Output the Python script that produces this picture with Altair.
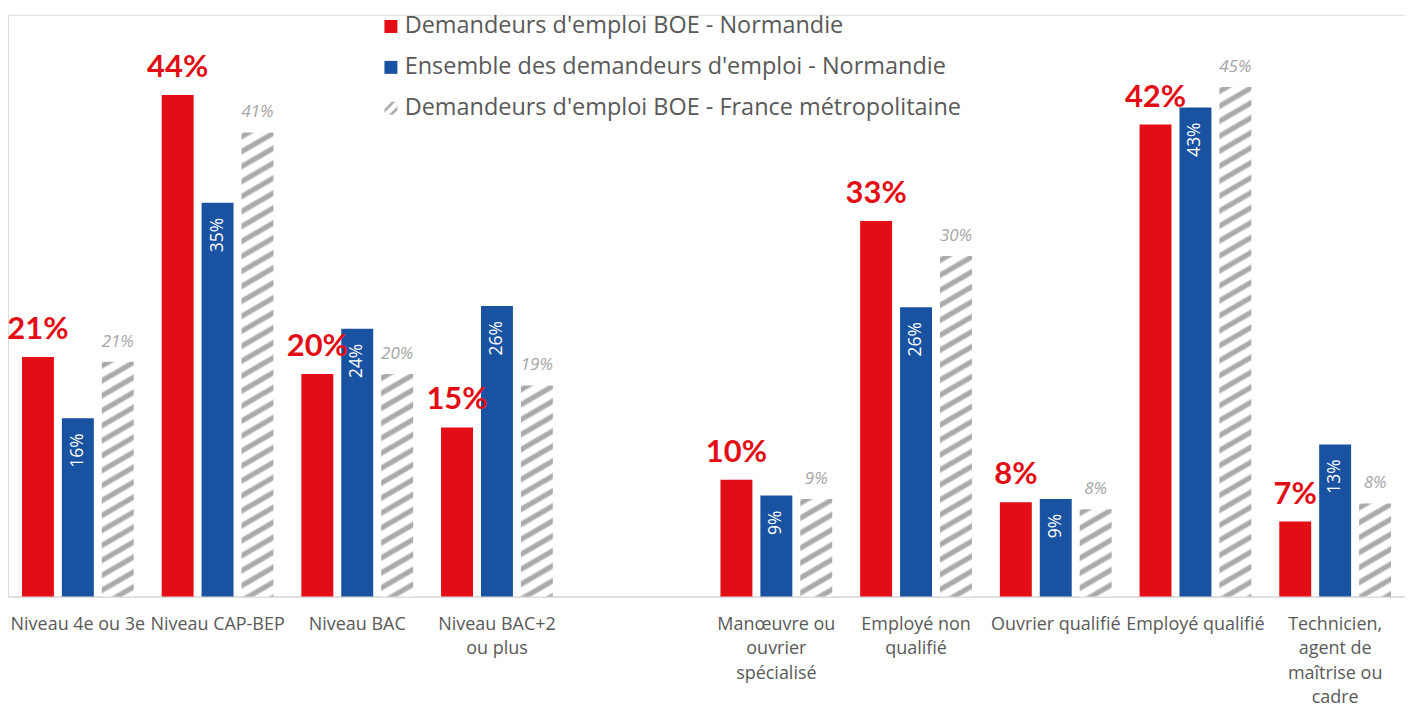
import altair as alt
import pandas as pd

categories = [
    "Niveau 4e ou 3e",
    "Niveau CAP-BEP",
    "Niveau BAC",
    "Niveau BAC+2\nou plus",
    " ",
    "Manœuvre ou\nouvrier\nspécialisé",
    "Employé non\nqualifié",
    "Ouvrier qualifié",
    "Employé qualifié",
    "Technicien,\nagent de\nmaîtrise ou\ncadre",
]
series = [
    "Demandeurs d'emploi BOE - Normandie",
    "Ensemble des demandeurs d'emploi - Normandie",
    "Demandeurs d'emploi BOE - France métropolitaine",
]
boe_normandie = [21.1, 44.2, 19.6, 14.9, None, 10.3, 33.1, 8.3, 41.6, 6.6]
ensemble_normandie = [15.7, 34.7, 23.6, 25.6, None, 8.9, 25.5, 8.6, 43.1, 13.4]
boe_france = [20.7, 40.9, 19.6, 18.6, None, 8.6, 30.0, 7.7, 44.9, 8.2]

RED = "#E20D15"
BLUE = "#1852A0"
HATCH = "#aaaaaa"
WHITE = "#ffffff"
TXT = "#595959"
FONT = "Open Sans"
BOLDFONT = "Lato"

TOP = 6
W, H = 1400, 583
YMAX = H / 11.37
SUBW = 32.0

rows = []
for s, vals in zip(series, [boe_normandie, ensemble_normandie, boe_france]):
    for c, v in zip(categories, vals):
        if v is None:
            continue
        rows.append({"category": c, "series": s, "value": v, "label": f"{v:.0f}%"})
df = pd.DataFrame(rows)


def hatch_fill(v, w=SUBW, s=0.58, period=15.0):
    h = v * H / YMAX
    U = s * w + h
    L = (s * s * w * w + h * h) / U
    stops = []
    a = 0.0
    while a < U:
        for off, col in [(0, WHITE), (2.5, HATCH), (6.0, HATCH), (8.5, WHITE)]:
            o = (a + off) / U
            if 0 <= o <= 1:
                stops.append({"offset": round(o, 5), "color": col})
        a += period
    return {"gradient": "linear", "x1": 0, "y1": 0,
            "x2": round(s * w / L, 5), "y2": round(h / L, 5), "stops": stops}


X = alt.X(
    "category:N",
    sort=categories,
    scale=alt.Scale(domain=categories, paddingInner=0.2, paddingOuter=0.1),
    axis=alt.Axis(
        title=None, ticks=False, domainColor="#d9d9d9", domainWidth=1.5,
        labelAngle=0, labelFont=FONT, labelFontSize=18, labelColor=TXT,
        labelPadding=19, labelLineHeight=24.5, labelOverlap=False, labelBound=False,
        labelLimit=300, labelExpr="split(datum.label, '\\n')",
    ),
)
XO = alt.XOffset("series:N", scale=alt.Scale(domain=series, paddingInner=0.2, paddingOuter=0))
Y = alt.Y("value:Q", scale=alt.Scale(domain=[0, YMAX], nice=False, zero=True), axis=None)

base = alt.Chart(df)

red_bars = base.transform_filter(alt.datum.series == series[0]).mark_bar(color=RED).encode(x=X, xOffset=XO, y=Y)
blue_bars = base.transform_filter(alt.datum.series == series[1]).mark_bar(color=BLUE).encode(x=X, xOffset=XO, y=Y)

gray_layers = []
for c, v in zip(categories, boe_france):
    if v is None:
        continue
    gray_layers.append(
        base.transform_filter((alt.datum.series == series[2]) & (alt.datum.category == c))
        .mark_bar(color=hatch_fill(v))
        .encode(x=X, xOffset=XO, y=Y)
    )

red_text = base.transform_filter(alt.datum.series == series[0]).mark_text(
    font=BOLDFONT, fontSize=31, fontWeight="bold", color=RED, baseline="alphabetic", dy=-18
).encode(x=X, xOffset=XO, y=Y, text="label:N")

blue_text = base.transform_filter(alt.datum.series == series[1]).mark_text(
    font=FONT, fontSize=17.5, color="white", angle=270, align="right", baseline="middle", dx=-15
).encode(x=X, xOffset=XO, y=Y, text="label:N")

gray_text = base.transform_filter(alt.datum.series == series[2]).mark_text(
    font=FONT, fontSize=17, fontStyle="italic", color="#a6a6a6", baseline="alphabetic", dy=-15
).encode(x=X, xOffset=XO, y=Y, text="label:N")

legend = alt.Legend(
    orient="none", legendX=372, legendY=6 - TOP, title=None, padding=0,
    labelFont=FONT, labelFontSize=23.5, labelColor=TXT, labelLimit=800,
    symbolSize=169, labelOffset=2, rowPadding=16, symbolStrokeWidth=0,
    symbolOpacity=1,
)
hatch_path = ("M-1,0.1L0.1,-1L0.7,-1L-1,0.7Z "
              "M-0.3,1L1,-0.3L1,0.3L0.3,1Z")
legend_df = pd.DataFrame({"series": series})
legend_layer = alt.Chart(legend_df).mark_point(filled=True, opacity=0, strokeWidth=0).encode(
    color=alt.Color("series:N", scale=alt.Scale(domain=series, range=[RED, BLUE, "#b0b0b0"]), legend=legend),
    shape=alt.Shape("series:N", scale=alt.Scale(domain=series, range=["square", "square", hatch_path]), legend=legend),
)

chart = alt.layer(red_bars, blue_bars, *gray_layers, red_text, blue_text, gray_text, legend_layer).properties(
    width=W, height=H,
    autosize=alt.AutoSizeParams(type="none"),
    padding={"left": 0, "top": TOP, "right": 0, "bottom": 112},
).configure_view(stroke=None).configure(font=FONT)

chart.save("out.html", embed_options={"renderer": "svg", "actions": False})
